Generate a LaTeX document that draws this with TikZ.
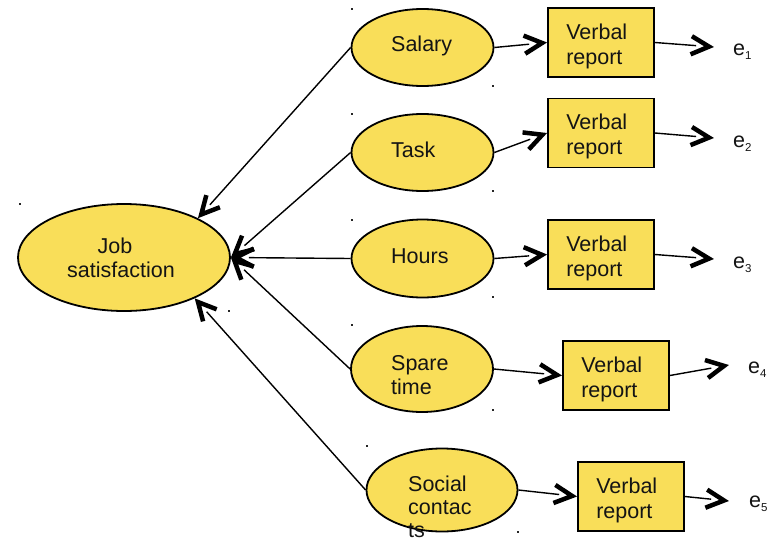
\documentclass[tikz,border=0pt]{standalone}
\usepackage{fontspec}
\setmainfont{Liberation Sans}
\usetikzlibrary{shapes.geometric,calc}
\definecolor{factorfill}{RGB}{249,222,89}
\definecolor{inkgray}{RGB}{20,20,20}
\newcommand{\errlabel}[1]{e\raisebox{-4pt}{\fontsize{11.5}{12}\selectfont #1}}

\begin{document}
\begin{tikzpicture}[x=1pt,y=-1pt,
  factor/.style={ellipse,draw=black,line width=1.8pt,fill=factorfill,inner sep=0pt},
  report/.style={rectangle,draw=black,line width=1.8pt,fill=factorfill,
    minimum width=106pt,minimum height=69pt,inner sep=0pt},
  txt/.style={font=\fontsize{21.5}{25}\selectfont,text=inkgray,inner sep=0pt,anchor=base west},
  ctxt/.style={txt,anchor=base},
  link/.style={line width=1.4pt,shorten >=18pt},
  barb/.style={line width=4.5pt,miter limit=10,line join=miter,line cap=butt},
  cornerdot/.style={fill=black!85}
]
\useasboundingbox (0,0) rectangle (771,541);

% open heavy barb with its point at #2, coming from the direction of #1
\newcommand{\headat}[2]{%
  \coordinate (hv) at ($(#2)!5pt!(#1)$);
  \draw[barb] ($(hv)!20pt!27:(#1)$) -- (hv) -- ($(hv)!20pt!-27:(#1)$);}

% latent variable
\node[factor,minimum width=212pt,minimum height=107pt] (job) at (124,257.5) {};
\node[ctxt] (jobA) at (115,253) {Job};
\node[ctxt] (jobB) at (121,277) {satisfaction};

% facets
\node[factor,minimum width=142pt,minimum height=77pt] (salary) at (422.5,47.5) {};
\node[factor,minimum width=142pt,minimum height=77pt] (task)   at (422.5,152.5) {};
\node[factor,minimum width=142pt,minimum height=78pt] (hours)  at (422.5,258.5) {};
\node[factor,minimum width=142pt,minimum height=86pt] (spare)  at (422,369) {};
\node[factor,minimum width=151pt,minimum height=83pt] (social) at (442,490) {};

\node[txt] (salaryT) at (391,51) {Salary};
\node[txt] (taskT)   at (391,157) {Task};
\node[txt] (hoursT)  at (391,263) {Hours};
\node[txt] (spareA)  at (391,370) {Spare};
\node[txt] (spareB)  at (391,394) {time};
\node[txt] (socialA) at (408,491) {Social};
\node[txt] (socialB) at (408,514) {contac};
\node[txt] (socialC) at (408,537) {ts};

% indicators
\node[report] (b1) at (601,42.5) {};
\node[report] (b2) at (601,133) {};
\node[report] (b3) at (601,254.5) {};
\node[report] (b4) at (616,375.5) {};
\node[report] (b5) at (631,496.5) {};
\foreach \b in {b1,b2,b3,b4,b5}{
  \node[txt] (\b v) at ([xshift=19pt,yshift=3.5pt]\b.west) {Verbal};
  \node[txt] (\b r) at ([xshift=19pt,yshift=-21.5pt]\b.west) {report};
}

% error terms
\node[txt] (e1) at (733,55)  {\errlabel{1}};
\node[txt] (e2) at (733,147) {\errlabel{2}};
\node[txt] (e3) at (733,268) {\errlabel{3}};
\node[txt] (e4) at (748,373) {\errlabel{4}};
\node[txt] (e5) at (749,507) {\errlabel{5}};
\coordinate (t1) at (714,47);
\coordinate (t2) at (714,138);
\coordinate (t3) at (714,259);
\coordinate (t4) at (729,365);
\coordinate (t5) at (729,501);

% anchor points on the latent variable
\coordinate (jin1) at (job.28);
\coordinate (jin2) at (job.east);
\coordinate (jin3) at (job.-30);

% paths into the latent variable
\draw[link] (salary.west) -- (jin1); \headat{salary.west}{jin1}
\draw[link] (task.west)   -- (jin2); \headat{task.west}{jin2}
\draw[link] (hours.west)  -- (jin2); \headat{hours.west}{jin2}
\draw[link] (spare.west)  -- (jin2); \headat{spare.west}{jin2}
\draw[link] (social.west) -- (jin3); \headat{social.west}{jin3}

% facets to indicators
\foreach \f/\b in {salary/b1,task/b2,hours/b3,spare/b4,social/b5}{
  \coordinate (\b in) at (\b.west);
  \draw[link] (\f.east) -- (\b in);
  \headat{\f.east}{\b in}
}

% indicators to error terms
\foreach \b/\t in {b1/t1,b2/t2,b3/t3,b4/t4,b5/t5}{
  \draw[link] (\b.east) -- (\t);
  \headat{\b.east}{\t}
}

% small corner marks of the text frames
\foreach \p in {(352,9),(493,86),(352,114),(493,191),(352,220),(493,297),
                (352,325),(493,410),(367,446),(518,532),(20,204),(229,311)}
  \fill[cornerdot] \p ++(-1,-1) rectangle ++(2,2);
\end{tikzpicture}
\end{document}
